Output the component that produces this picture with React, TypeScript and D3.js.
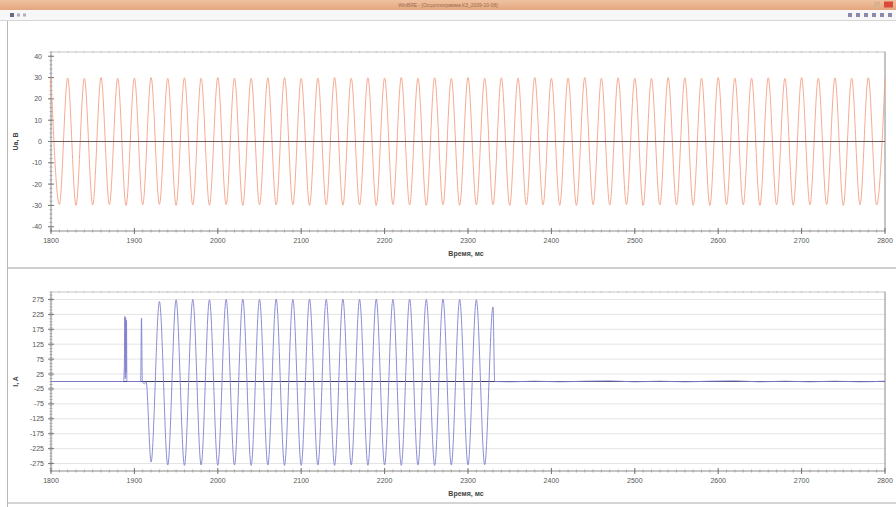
import React from "react";
import * as d3 from "d3";

// ---------- data ----------
const xTicks = [1800, 1900, 2000, 2100, 2200, 2300, 2400, 2500, 2600, 2700, 2800];
const topYTicks = [40, 30, 20, 10, 0, -10, -20, -30, -40];
const botYTicks = [275, 225, 175, 125, 75, 25, -25, -75, -125, -175, -225, -275];

// voltage extrema (time ms, value V)
const topT = [
  1800, 1810, 1820, 1830, 1840, 1850, 1860, 1870, 1880, 1890,
  1900, 1910, 1920, 1930, 1940, 1950, 1960, 1970, 1980, 1990,
  2000, 2010, 2020, 2030, 2040, 2050, 2060, 2070, 2080, 2090,
  2100, 2110, 2120, 2130, 2140, 2150, 2160, 2170, 2180, 2190,
  2200, 2210, 2220, 2230, 2240, 2250, 2260, 2270, 2280, 2290,
  2300, 2310, 2320, 2330, 2340, 2350, 2360, 2370, 2380, 2390,
  2400, 2410, 2420, 2430, 2440, 2450, 2460, 2470, 2480, 2490,
  2500, 2510, 2520, 2530, 2540, 2550, 2560, 2570, 2580, 2590,
  2600, 2610, 2620, 2630, 2640, 2650, 2660, 2670, 2680, 2690,
  2700, 2710, 2720, 2730, 2740, 2750, 2760, 2770, 2780, 2790,
  2800,
];
const topV = [
  30, -29.5, 29.8, -30, 29.6, -29.8, 30, -29.6, 29.7, -30,
  29.8, -29.7, 30, -29.5, 29.6, -30, 29.9, -29.8, 29.7, -29.9,
  30, -29.6, 29.8, -30, 29.7, -29.7, 29.9, -29.8, 30, -29.6,
  29.6, -30, 29.8, -29.7, 30, -29.9, 29.7, -29.8, 29.9, -30,
  29.8, -29.6, 30, -29.8, 29.7, -30, 29.9, -29.7, 29.6, -29.9,
  30, -29.8, 29.7, -29.6, 29.9, -30, 29.8, -29.7, 30, -29.8,
  29.6, -29.9, 29.8, -30, 30, -29.7, 29.7, -29.8, 29.9, -29.6,
  29.8, -30, 29.6, -29.8, 30, -29.7, 29.9, -29.9, 29.7, -30,
  30, -29.6, 29.8, -29.8, 29.7, -30, 29.9, -29.7, 29.6, -29.9,
  30, -29.8, 29.7, -29.6, 29.9, -30, 29.8, -29.7, 30, -29.8,
  29.7,
];

// current samples (time ms, value A)
const botT = [
  1800, 1887, 1888, 1888.5, 1889, 1889.5, 1890, 1890.5, 1891,
  1907.5, 1908.5, 1909.5, 1912, 1914,
  1920, 1930, 1940, 1950, 1960, 1970, 1980, 1990, 2000, 2010,
  2020, 2030, 2040, 2050, 2060, 2070, 2080, 2090, 2100, 2110,
  2120, 2130, 2140, 2150, 2160, 2170, 2180, 2190, 2200, 2210,
  2220, 2230, 2240, 2250, 2260, 2270, 2280, 2290, 2300, 2310,
  2320, 2330, 2332,
  2350, 2380, 2410, 2440, 2470, 2500, 2530, 2560, 2590, 2620,
  2650, 2680, 2710, 2740, 2770, 2800,
];
const botV = [
  0, 0, 60, 218, 10, 214, 30, 205, 0,
  0, 212, 0, -8, 0,
  -270, 268, -280, 274, -281, 275, -280, 274, -281, 275,
  -280, 276, -281, 275, -280, 276, -281, 275, -281, 276,
  -280, 275, -281, 276, -280, 275, -281, 276, -280, 275,
  -281, 276, -280, 275, -281, 276, -280, 275, -280, 274,
  -279, 250, 0,
  -1, 1, -1, 1, 2, -1, 1, -1, 1, 2,
  -1, 1, -1, 1, -1, 1,
];

// ---------- layout ----------
const W = 896;
const H = 507;
const X0 = 51;
const X1 = 885;

const x = d3.scaleLinear().domain([1800, 2800]).range([X0, X1]);
const yTop = d3.scaleLinear().domain([-42, 42]).range([231, 52]);
const yBot = d3.scaleLinear().domain([-300, 300]).range([471, 292]);

const FONT = "'Liberation Sans', Arial, sans-serif";

function XAxis({ yAxis, yFrameTop, labelY, titleY }: { yAxis: number; yFrameTop: number; labelY: number; titleY: number }) {
  const minor = d3.range(1800, 2801, 10);
  return (
    <g>
      <line x1={X0} x2={X1} y1={yAxis} y2={yAxis} stroke="#8a8a8a" strokeWidth={1} />
      <line x1={X0} x2={X1} y1={yFrameTop} y2={yFrameTop} stroke="#c4c4c4" strokeWidth={1} />
      {minor.map((t) => (
        <g key={t}>
          <line x1={x(t)} x2={x(t)} y1={yAxis - 1.5} y2={yAxis + 1.5} stroke="#9a9a9a" strokeWidth={0.8} />
          <line x1={x(t)} x2={x(t)} y1={yFrameTop - 1} y2={yFrameTop + 1} stroke="#c0c0c0" strokeWidth={0.8} />
        </g>
      ))}
      {xTicks.map((t) => (
        <g key={"M" + t}>
          <line x1={x(t)} x2={x(t)} y1={yAxis - 3} y2={yAxis + 3} stroke="#777" strokeWidth={1} />
          <text x={x(t)} y={labelY} textAnchor="middle" fontSize={7} fill="#555" fontFamily={FONT}>
            {t}
          </text>
        </g>
      ))}
      <text x={466} y={titleY} textAnchor="middle" fontSize={7} fontWeight="bold" fill="#444" fontFamily={FONT}>
        Время, мс
      </text>
    </g>
  );
}

export default function App() {
  const lineTop = d3
    .line<number>()
    .x((_, i) => x(topT[i]))
    .y((v) => yTop(v))
    .curve(d3.curveMonotoneX);
  const lineBot = d3
    .line<number>()
    .x((_, i) => x(botT[i]))
    .y((v) => yBot(v))
    .curve(d3.curveMonotoneX);

  const topMinorY = d3.range(-42, 43, 2);
  const botMinorY = d3.range(-300, 301, 10);

  return (
    <div style={{ position: "fixed", left: 0, top: 0, width: W, height: H, background: "#fff" }}>
      <svg width={W} height={H} viewBox={`0 0 ${W} ${H}`} style={{ display: "block" }}>
        <rect x={0} y={0} width={W} height={H} fill="#ffffff" />
        {/* window chrome */}
        <defs>
          <linearGradient id="tb" x1="0" x2="0" y1="0" y2="1">
            <stop offset="0" stopColor="#efc2a0" />
            <stop offset="1" stopColor="#e3a77f" />
          </linearGradient>
        </defs>
        <rect x={0} y={0} width={W} height={10} fill="url(#tb)" />
        <text x={448} y={7} textAnchor="middle" fontSize={5} fill="#9a6a50" fontFamily={FONT}>
          WinBRE - [Осциллограмма КЗ_2009-10-08]
        </text>
        <rect x={874} y={1.5} width={6} height={6} fill="#d9b090" />
        <rect x={884} y={1.5} width={9} height={6} fill="#d84a3a" />
        <rect x={0} y={10} width={W} height={10} fill="#f7f7f7" />
        <line x1={0} x2={W} y1={20.5} y2={20.5} stroke="#d6d6d6" />
        <rect x={10} y={13} width={4} height={4} fill="#6a6a8a" />
        <rect x={17} y={13.5} width={3} height={3} fill="#b0b0c0" />
        <rect x={23} y={13.5} width={3} height={3} fill="#b0b0c0" />
        {[848, 856, 864, 872, 880, 888].map((px) => (
          <rect key={px} x={px} y={13} width={4} height={4} fill="#8a8ab0" />
        ))}
        <line x1={7.5} x2={7.5} y1={21} y2={H} stroke="#b8b8b8" />
        <rect x={8} y={267} width={W - 8} height={2} fill="#cfcfcf" />
        <rect x={8} y={502} width={W - 8} height={2} fill="#d4d4d4" />

        {/* ---------- top panel ---------- */}
        <line x1={X0} x2={X0} y1={52} y2={231} stroke="#8a8a8a" />
        <line x1={X1} x2={X1} y1={52} y2={231} stroke="#8a8a8a" />
        {topMinorY.map((v) => (
          <line key={v} x1={X0 - 1.5} x2={X0 + 1.5} y1={yTop(v)} y2={yTop(v)} stroke="#9a9a9a" strokeWidth={0.8} />
        ))}
        {topYTicks.map((v) => (
          <g key={v}>
            <line x1={X0 - 3} x2={X0 + 3} y1={yTop(v)} y2={yTop(v)} stroke="#777" />
            <text x={42} y={yTop(v) + 2.5} textAnchor="end" fontSize={7} fill="#555" fontFamily={FONT}>
              {v}
            </text>
          </g>
        ))}
        <path d={lineTop(topV) || ""} fill="none" stroke="#f4a084" strokeWidth={0.9} />
        <line x1={X0} x2={X1} y1={yTop(0)} y2={yTop(0)} stroke="#6e5a58" strokeWidth={1} />
        <XAxis yAxis={231} yFrameTop={52} labelY={243} titleY={256} />
        <text
          transform={`translate(18,${yTop(0)}) rotate(-90)`}
          textAnchor="middle"
          fontSize={7}
          fontWeight="bold"
          fill="#444"
          fontFamily={FONT}
        >
          Ua, В
        </text>

        {/* ---------- bottom panel ---------- */}
        {botYTicks.map((v) => (
          <line key={"g" + v} x1={X0} x2={X1} y1={yBot(v)} y2={yBot(v)} stroke="#e4e4e4" strokeWidth={1} />
        ))}
        <line x1={X0} x2={X0} y1={292} y2={471} stroke="#8a8a8a" />
        <line x1={X1} x2={X1} y1={292} y2={471} stroke="#8a8a8a" />
        {botMinorY.map((v) => (
          <line key={v} x1={X0 - 1.5} x2={X0 + 1.5} y1={yBot(v)} y2={yBot(v)} stroke="#9a9a9a" strokeWidth={0.8} />
        ))}
        {botYTicks.map((v) => (
          <g key={v}>
            <line x1={X0 - 3} x2={X0 + 3} y1={yBot(v)} y2={yBot(v)} stroke="#777" />
            <text x={44} y={yBot(v) + 2.5} textAnchor="end" fontSize={7} fill="#555" fontFamily={FONT}>
              {v}
            </text>
          </g>
        ))}
        <line x1={X0} x2={X1} y1={yBot(0)} y2={yBot(0)} stroke="#3e3e6a" strokeWidth={1} />
        <path d={lineBot(botV) || ""} fill="none" stroke="#8080d0" strokeWidth={0.9} />
        <XAxis yAxis={471} yFrameTop={292} labelY={483} titleY={496} />
        <text
          transform={`translate(18,${yBot(0)}) rotate(-90)`}
          textAnchor="middle"
          fontSize={7}
          fontWeight="bold"
          fill="#444"
          fontFamily={FONT}
        >
          I, A
        </text>
      </svg>
    </div>
  );
}
